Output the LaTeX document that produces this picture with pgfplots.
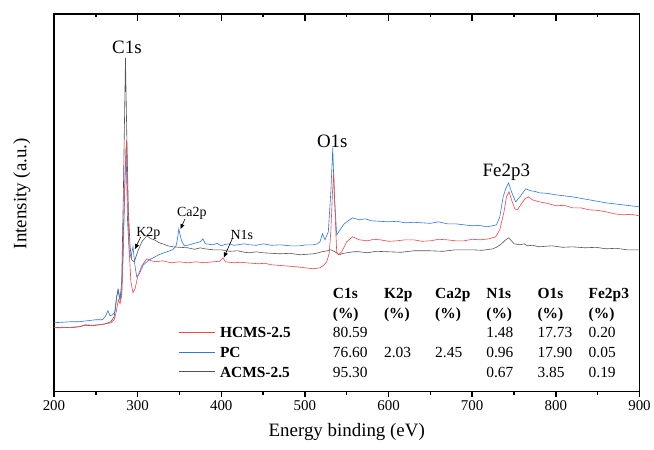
\documentclass[border=0pt]{standalone}
\usepackage{pgfplots}
\pgfplotsset{compat=1.18}
\usepackage{fontspec}
\setmainfont{Liberation Serif}
\usetikzlibrary{arrows.meta}

\definecolor{hcms}{RGB}{238,72,72}
\definecolor{pc}{RGB}{48,118,228}
\definecolor{acms}{RGB}{85,85,85}

\begin{document}
\begin{tikzpicture}
\begin{axis}[
  scale only axis, width=586bp, height=378bp,
  xmin=200, xmax=900, ymin=0, ymax=378,
  xtick={200,300,...,900}, minor xtick={250,350,...,850},
  ytick=\empty,
  xtick pos=left, tick align=outside,
  major tick length=5.5bp, minor tick length=3bp,
  axis line style={line width=1.5bp},
  every tick/.style={draw=none},
  tick label style={font=\fontsize{15}{18}\selectfont},
  /pgf/number format/assume math mode=true,
  xlabel={Energy binding (eV)},
  ylabel={Intensity (a.u.)},
  label style={font=\fontsize{19}{22}\selectfont},
  xlabel style={at={(axis description cs:0.5,-0.106)}, anchor=center},
  ylabel style={at={(axis description cs:-0.055,0.524)}, anchor=center},
  clip=false,
]
% ACMS-2.5
\addplot[acms, line width=0.6bp] coordinates {
(200,64) (210,64.5) (220,64) (230,65) (238,66.5) (245,66) (255,67) (262,68) (268,70) (272,75)
(275,95) (276.5,102) (279,92) (281,110) (283,200) (285.5,334) (287,260) (289,180) (291,145)
(293,132) (296,130) (300,140) (305,150) (311,156) (316,153) (320,152) (326,149) (330,148)
(336,146) (342,145) (350,144.5) (360,144) (368,142.5) (375,144) (380,143) (390,142) (400,142)
(410,140.5) (420,141) (428,139.5) (434,139) (442,140) (450,139) (460,138.5) (470,138) (482,138.5)
(494,137) (502,137.5) (510,138) (516,139) (520,140) (527,141) (531,142) (536,140) (541,137)
(546,138.5) (550,139) (558,140) (565,140) (575,139) (585,140.5) (600,140) (615,139.5) (630,141)
(650,141) (665,140.5) (680,142) (700,142) (712,141.5) (725,143) (730,145) (735,148) (740,152)
(743.5,154) (747,151) (750,148) (757,147) (762,148) (766,146) (772,146.5) (780,145) (795,146)
(808,144.5) (820,145) (835,144) (848,144.5) (860,143) (872,143.5) (885,142) (900,142)
};
% PC
\addplot[pc, line width=0.6bp] coordinates {
(200,69) (210,69.5) (220,70) (230,70) (240,71) (250,72) (258,72) (262,76) (264.5,81) (267,76)
(270,77) (273,80) (275,95) (277,102) (279,92) (281,100) (283,160) (286.2,244) (288,170)
(290,140) (292,135) (294.5,145) (297,125) (299,115) (302,118) (307,127) (314,132) (320,134.5)
(325,137) (335,140) (342,142) (346,146) (347.5,152) (349.3,163) (351,156) (353,150) (356,146)
(362,147) (370,149) (375,150) (378,153) (381,148) (386,147.5) (390,147) (395,148.5) (400,146)
(405,147.5) (410,148) (415,146.5) (420,147) (427,148) (434,147) (442,146.5) (450,148) (460,146.5)
(470,147) (482,146) (494,146) (502,147) (510,147) (515,148) (518,150) (521,158) (524,152)
(528,160) (531,200) (533.3,244) (535,200) (538,157) (542,162) (546,167) (550,170) (557,174)
(565,172) (572,173) (580,171) (590,170.5) (600,170) (610,170.5) (620,169) (630,169.5) (640,169)
(650,168.5) (660,170) (670,168) (680,168) (690,167) (700,166) (708,166.5) (717,165) (724,166)
(729,167) (733,175) (737,195) (740,203) (743.5,209) (747,200) (752,190) (757,195) (764,203)
(770,201) (775,200.5) (780,199) (790,198.5) (800,197) (810,196) (820,195) (830,193.5) (840,192)
(850,190.5) (860,189) (870,188) (880,187) (890,186) (900,185)
};
% HCMS-2.5
\addplot[hcms, line width=0.6bp] coordinates {
(200,64) (210,64) (220,64.5) (230,65) (238,67) (245,66.5) (255,67) (262,68) (268,69) (272,72)
(274,78) (277,92) (279,88) (281,96) (283,140) (285,220) (286.8,252) (288,200) (290,140)
(292,110) (294.5,99) (297,103) (300,115) (305,126) (311,133) (316,131) (322,130) (330,131)
(340,129) (350,130) (360,129) (370,130) (380,129) (390,130) (398,130.5) (402,134) (405,130)
(415,129) (422,129.5) (430,129) (445,128) (452,128.5) (460,127) (475,126) (490,125) (500,124)
(510,123) (518,124) (523,127) (526,130) (529,138) (531,160) (533,200) (534.5,219) (536,180)
(538,140) (540,137) (544,140) (550,150) (557,155) (565,152) (575,151) (582,152.5) (590,152)
(600,150.5) (610,151) (620,152) (630,152) (640,150.5) (650,151) (660,152.5) (670,152) (680,151)
(690,151) (700,152.5) (710,152) (720,153) (728,155) (733,162) (738,180) (741,195) (744,200)
(747,192) (751,183) (754,182) (758,187) (763,193) (767,195) (772,192) (780,190) (790,188.5)
(800,186) (810,186.5) (820,184) (830,184) (840,182) (850,181.5) (860,180) (870,178) (880,177)
(890,177.5) (900,176)
};
% peak labels
\node[font=\fontsize{19}{22}\selectfont, anchor=base] at (axis cs:287.2,338.7) {C1s};
\node[font=\fontsize{19}{22}\selectfont, anchor=base] at (axis cs:532.7,244) {O1s};
\node[font=\fontsize{19}{22}\selectfont, anchor=base] at (axis cs:740.8,215) {Fe2p3};
\node[font=\fontsize{14}{16}\selectfont, anchor=base] at (axis cs:312.9,155.5) {K2p};
\node[font=\fontsize{14}{16}\selectfont, anchor=base] at (axis cs:364.9,175) {Ca2p};
\node[font=\fontsize{14}{16}\selectfont, anchor=base] at (axis cs:424.6,152) {N1s};
\draw[-{Triangle[length=5bp,width=4bp]}, line width=0.6bp]
  (axis cs:303.6,154.7) -- (axis cs:296.8,142.7);
\draw[-{Triangle[length=5bp,width=4bp]}, line width=0.6bp]
  (axis cs:356.5,172.7) -- (axis cs:351.3,162.7);
\draw[-{Triangle[length=5bp,width=4bp]}, line width=0.6bp]
  (axis cs:413.5,153.7) -- (axis cs:403.1,134.3);
% composition table with legend lines
\node[anchor=north west, inner sep=0pt, font=\fontsize{15.5}{19.7}\selectfont]
  at (axis cs:349.3,107) {%
  \setlength{\tabcolsep}{0pt}%
  \begin{tabular}{@{}p{41bp}p{113bp}p{51.2bp}p{51.2bp}p{51.2bp}p{51.2bp}p{51.2bp}p{51.2bp}@{}}
   & & \textbf{C1s} & \textbf{K2p} & \textbf{Ca2p} & \textbf{N1s} & \textbf{O1s} & \textbf{Fe2p3}\\
   & & \textbf{(\%)} & \textbf{(\%)} & \textbf{(\%)} & \textbf{(\%)} & \textbf{(\%)} & \textbf{(\%)}\\
   \textcolor{hcms}{\rule[5bp]{36bp}{0.8bp}} & \textbf{HCMS-2.5} & 80.59 & & & 1.48 & 17.73 & 0.20\\
   \textcolor{pc}{\rule[5bp]{36bp}{0.8bp}} & \textbf{PC} & 76.60 & 2.03 & 2.45 & 0.96 & 17.90 & 0.05\\
   \textcolor{acms}{\rule[5bp]{36bp}{0.8bp}} & \textbf{ACMS-2.5} & 95.30 & & & 0.67 & 3.85 & 0.19\\
  \end{tabular}};
\end{axis}
% ticks: outward on the bottom axis, inward on the top axis
\foreach \i in {0,2,...,14} {
  \draw[line width=1.5bp] (\i*41.857bp,0) -- ++(0,-5.5bp);
  \draw[line width=1.5bp] (\i*41.857bp,378bp) -- ++(0,-7bp);
}
\foreach \i in {1,3,...,13} {
  \draw[line width=1.5bp] (\i*41.857bp,0) -- ++(0,-3bp);
  \draw[line width=1.5bp] (\i*41.857bp,378bp) -- ++(0,-3.5bp);
}
\path (-54bp,-58bp) rectangle (600bp,392bp);
\end{tikzpicture}
\end{document}
